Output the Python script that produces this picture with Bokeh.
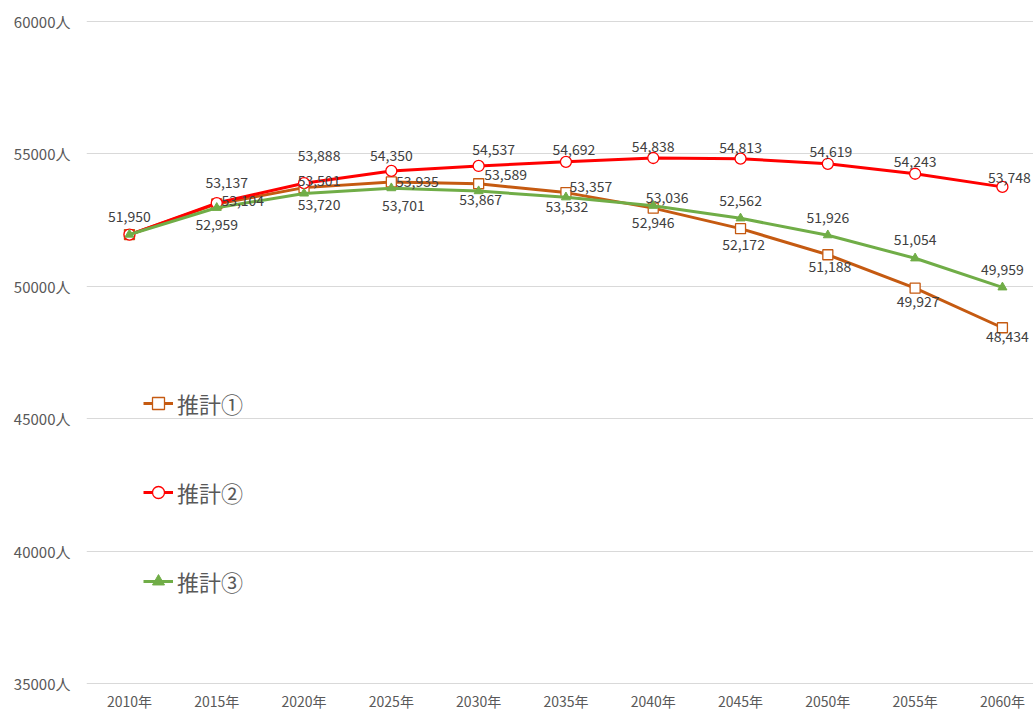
from bokeh.plotting import figure
from bokeh.models import (ColumnDataSource, Range1d, FixedTicker, LabelSet,
                          Legend, LegendItem)
from bokeh.core.properties import value
from bokeh.embed import file_html
from bokeh.resources import INLINE

# ---- data ----
years = [2010, 2015, 2020, 2025, 2030, 2035, 2040, 2045, 2050, 2055, 2060]
x_tick_labels = ["2010年", "2015年", "2020年", "2025年", "2030年", "2035年",
                 "2040年", "2045年", "2050年", "2055年", "2060年"]
y_ticks = [35000, 40000, 45000, 50000, 55000, 60000]
y_tick_labels = ["35000人", "40000人", "45000人", "50000人", "55000人", "60000人"]

series_names = ["推計①", "推計②", "推計③"]
est1 = [51950, 53104, 53720, 53935, 53867, 53532, 52946, 52172, 51188, 49927, 48434]
est2 = [51950, 53137, 53888, 54350, 54537, 54692, 54838, 54813, 54619, 54243, 53748]
est3 = [51950, 52959, 53501, 53701, 53589, 53357, 53036, 52562, 51926, 51054, 49959]

# ---- label placement (style, screen px offsets) ----
off1_x = [0, 26, 15, 26, 2, 1, 0, 3, 2, 3, 5]
off1_y = [0, 3, -17, 0, -16, -14, -14, -16, -12, -13, -9]
off2_x = [0, 10, 15, 0, 15, 8, 0, 0, 3, 0, 7]
off2_y = [18, 21, 28, 15, 16, 12, 11, 11, 12, 12, 9]
off3_x = [0, 0, 15, 12, 27, 25, 14, 0, 0, 0, 0]
off3_y = [0, -17, 13, -17, 17, 11, 8, 18, 18, 19, 18]

FONT = "Noto Sans CJK JP"
AX_COLOR = "#595959"
LBL_COLOR = "#404040"

p = figure(width=1033, height=713, output_backend="svg", toolbar_location=None,
           x_range=Range1d(2007.54, 2061.78), y_range=Range1d(34975, 60025),
           min_border_left=86, min_border_right=0, min_border_top=20,
           min_border_bottom=27)
p.outline_line_color = None
p.background_fill_color = "white"

# axes
for ax in (p.xaxis[0], p.yaxis[0]):
    ax.axis_line_color = None
    ax.major_tick_line_color = None
    ax.minor_tick_line_color = None
    ax.major_tick_out = 0
    ax.major_tick_in = 0
    ax.minor_tick_out = 0
    ax.major_label_text_font = FONT
    ax.major_label_text_color = AX_COLOR
p.xaxis.ticker = FixedTicker(ticks=years)
p.xaxis.major_label_overrides = dict(zip(years, x_tick_labels))
p.xaxis.major_label_text_font_size = "14px"
p.xaxis.major_label_standoff = 6
p.yaxis.ticker = FixedTicker(ticks=y_ticks)
p.yaxis.major_label_overrides = dict(zip(y_ticks, y_tick_labels))
p.yaxis.major_label_text_font_size = "15px"
p.yaxis.major_label_standoff = 16

p.xgrid.grid_line_color = None
p.ygrid.grid_line_color = "#D9D9D9"
p.ygrid.grid_line_width = 1

# series
src1 = ColumnDataSource(dict(x=years, y=est1, t=[f"{v:,}" for v in est1], dx=off1_x, dy=off1_y))
src2 = ColumnDataSource(dict(x=years, y=est2, t=[f"{v:,}" for v in est2], dx=off2_x, dy=off2_y))
src3 = ColumnDataSource(dict(x=years, y=est3, t=[f"{v:,}" for v in est3], dx=off3_x, dy=off3_y))

l1 = p.line("x", "y", source=src1, line_color="#C55A11", line_width=3)
m1 = p.scatter("x", "y", source=src1, marker="square", size=10,
               fill_color="white", line_color="#C55A11", line_width=1.3)
l2 = p.line("x", "y", source=src2, line_color="#FF0000", line_width=3)
m2 = p.scatter("x", "y", source=src2, marker="circle", size=11,
               fill_color="white", line_color="#FF0000", line_width=1.3)
l3 = p.line("x", "y", source=src3, line_color="#70AD47", line_width=3)
m3 = p.scatter("x", "y", source=src3, marker="triangle", size=9,
               fill_color="#70AD47", line_color="#70AD47", line_width=1)

# data labels (first point shared by all three series: labelled once)
def subset(src, start):
    d = src.data
    return ColumnDataSource({k: list(v)[start:] for k, v in d.items()})

for s in (subset(src1, 1), subset(src2, 0), subset(src3, 1)):
    p.add_layout(LabelSet(x="x", y="y", text="t", source=s, x_offset="dx", y_offset="dy",
                          text_align="center", text_baseline="middle",
                          text_font=value(FONT), text_font_size="14px",
                          text_color=LBL_COLOR))

legend = Legend(items=[LegendItem(label=series_names[0], renderers=[l1, m1]),
                       LegendItem(label=series_names[1], renderers=[l2, m2]),
                       LegendItem(label=series_names[2], renderers=[l3, m3])],
                location=(57, 87), orientation="vertical",
                glyph_width=30, glyph_height=30, label_height=30,
                spacing=57, padding=0, margin=0, label_standoff=4,
                label_text_font=FONT, label_text_font_size="22px",
                label_text_color=AX_COLOR,
                border_line_color=None, background_fill_alpha=0)
p.add_layout(legend, "center")

open("out.html", "w").write(file_html(p, INLINE))
